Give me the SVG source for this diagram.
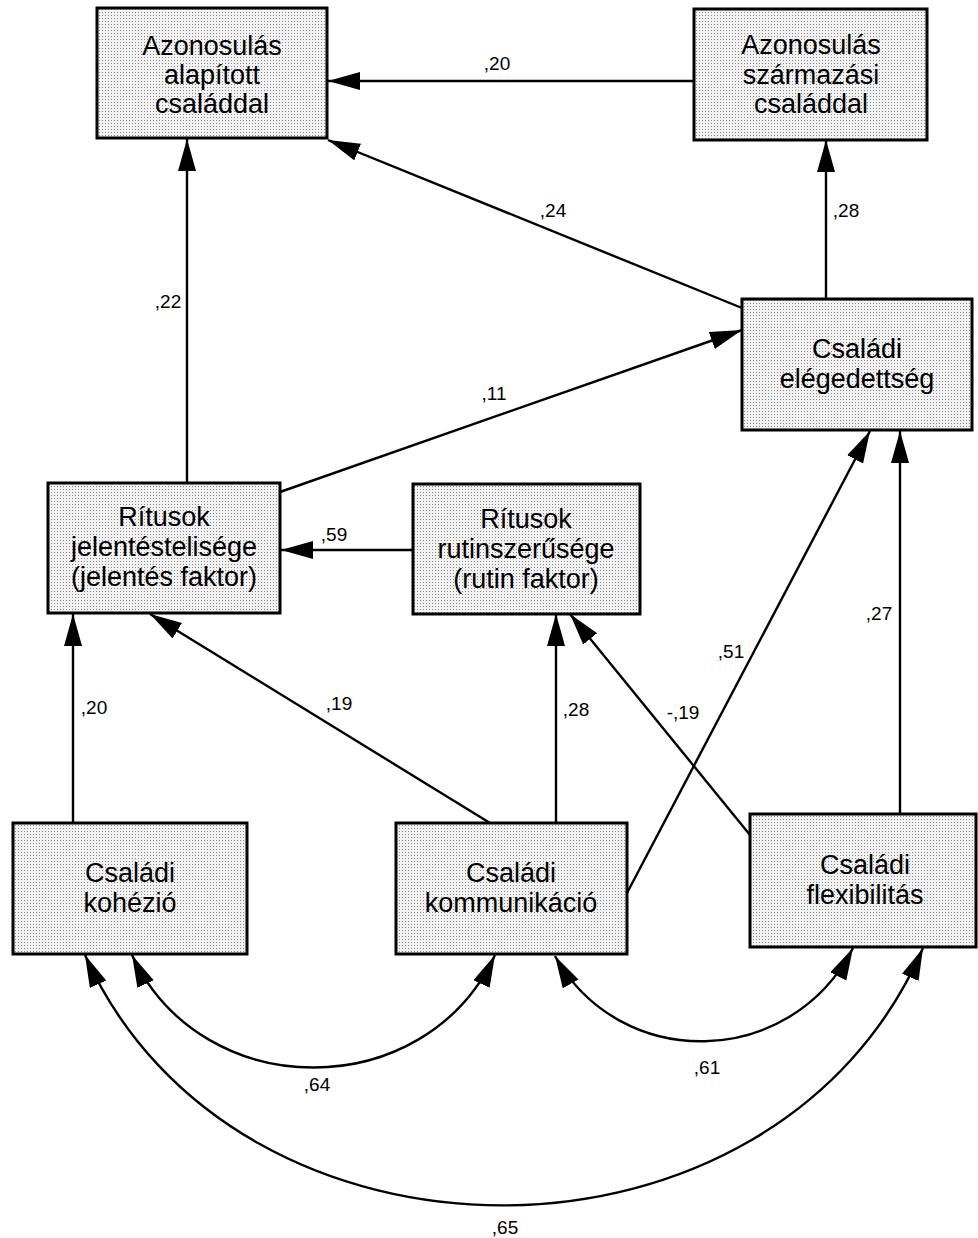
<svg xmlns="http://www.w3.org/2000/svg" width="978" height="1238" viewBox="0 0 978 1238">
<style>
.box{fill:url(#dots);stroke:#000;stroke-width:3}
.bt{font-family:"Liberation Sans",Arial,sans-serif;font-size:27px;fill:#000;text-anchor:middle}
.lb{font-family:"Liberation Sans",Arial,sans-serif;font-size:19px;fill:#000;text-anchor:middle}
.c{fill:none;stroke:#000;stroke-width:2.4}
</style>
<defs>
<pattern id="dots" patternUnits="userSpaceOnUse" x="0" y="0" width="3" height="3">
<rect width="3" height="3" fill="#f2f2f2"/>
<rect width="1" height="1" fill="#8a8a8a"/>
</pattern>
<marker id="ah" markerUnits="userSpaceOnUse" markerWidth="34" markerHeight="20" refX="32" refY="9" orient="auto-start-reverse" viewBox="0 0 34 20">
<path d="M0,0 L32,9 L0,18 z" fill="#000"/>
</marker>
</defs>
<rect width="978" height="1238" fill="#fff"/>

<g id="connectors">
<line class="c" x1="694" y1="81" x2="328" y2="81" marker-end="url(#ah)"/>
<line class="c" x1="742" y1="308" x2="328" y2="140" marker-end="url(#ah)"/>
<line class="c" x1="826" y1="299" x2="826" y2="140" marker-end="url(#ah)"/>
<line class="c" x1="187" y1="483" x2="187" y2="139" marker-end="url(#ah)"/>
<line class="c" x1="280" y1="492" x2="742" y2="330" marker-end="url(#ah)"/>
<line class="c" x1="413" y1="550" x2="281" y2="550" marker-end="url(#ah)"/>
<line class="c" x1="73" y1="823" x2="73" y2="614" marker-end="url(#ah)"/>
<line class="c" x1="490" y1="823" x2="150" y2="614" marker-end="url(#ah)"/>
<line class="c" x1="556" y1="823" x2="556" y2="614" marker-end="url(#ah)"/>
<line class="c" x1="750" y1="835" x2="570" y2="614" marker-end="url(#ah)"/>
<line class="c" x1="627" y1="893" x2="870" y2="431" marker-end="url(#ah)"/>
<line class="c" x1="900" y1="814" x2="900" y2="431" marker-end="url(#ah)"/>
<path class="c" d="M132,955 C202,1105 425,1105 495,955" marker-start="url(#ah)" marker-end="url(#ah)"/>
<path class="c" d="M555,956 C620,1072 790,1070 853,948" marker-start="url(#ah)" marker-end="url(#ah)"/>
<path class="c" d="M85,955 C235,1290 775,1290 923,948" marker-start="url(#ah)" marker-end="url(#ah)"/>
<text class="lb" x="497" y="70">,20</text>
<text class="lb" x="553" y="217">,24</text>
<text class="lb" x="846" y="217">,28</text>
<text class="lb" x="168" y="308">,22</text>
<text class="lb" x="494" y="400">,11</text>
<text class="lb" x="334" y="541">,59</text>
<text class="lb" x="94" y="714">,20</text>
<text class="lb" x="339" y="710">,19</text>
<text class="lb" x="576" y="716">,28</text>
<text class="lb" x="683" y="719">-,19</text>
<text class="lb" x="731" y="658">,51</text>
<text class="lb" x="879" y="620">,27</text>
<text class="lb" x="317" y="1091">,64</text>
<text class="lb" x="707" y="1074">,61</text>
<text class="lb" x="505" y="1234">,65</text>
</g>

<g id="n1">
<rect class="box" x="97" y="8" width="230" height="130"/>
<text class="bt" x="212" y="55">Azonosulás</text>
<text class="bt" x="212" y="84">alapított</text>
<text class="bt" x="212" y="113">családdal</text>
</g>
<g id="n2">
<rect class="box" x="694" y="9" width="233" height="131"/>
<text class="bt" x="811" y="54">Azonosulás</text>
<text class="bt" x="811" y="84">származási</text>
<text class="bt" x="811" y="113">családdal</text>
</g>
<g id="n3">
<rect class="box" x="742" y="299" width="230" height="131"/>
<text class="bt" x="857" y="358">Családi</text>
<text class="bt" x="857" y="388">elégedettség</text>
</g>
<g id="n4">
<rect class="box" x="48" y="483" width="232" height="130"/>
<text class="bt" x="164" y="526">Rítusok</text>
<text class="bt" x="164" y="556">jelentéstelisége</text>
<text class="bt" x="164" y="586">(jelentés faktor)</text>
</g>
<g id="n5">
<rect class="box" x="413" y="484" width="227" height="130"/>
<text class="bt" x="526" y="528">Rítusok</text>
<text class="bt" x="526" y="558">rutinszerűsége</text>
<text class="bt" x="526" y="588">(rutin faktor)</text>
</g>
<g id="n6">
<rect class="box" x="13" y="823" width="234" height="131"/>
<text class="bt" x="130" y="882">Családi</text>
<text class="bt" x="130" y="912">kohézió</text>
</g>
<g id="n7">
<rect class="box" x="396" y="823" width="231" height="131"/>
<text class="bt" x="511" y="882">Családi</text>
<text class="bt" x="511" y="912">kommunikáció</text>
</g>
<g id="n8">
<rect class="box" x="750" y="814" width="226" height="133"/>
<text class="bt" x="865" y="874">Családi</text>
<text class="bt" x="865" y="904">flexibilitás</text>
</g>
</svg>
